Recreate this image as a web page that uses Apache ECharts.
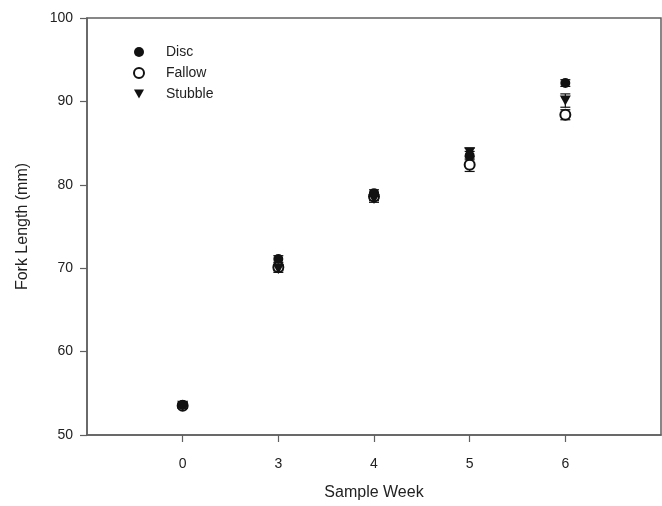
<!DOCTYPE html>
<html>
<head>
<meta charset="utf-8">
<script src="https://cdn.jsdelivr.net/npm/echarts@6/dist/echarts.min.js"></script>
<style>html,body{margin:0;padding:0;background:#fff}#c{width:662px;height:506px}</style>
</head>
<body>
<div id="c"></div>
<script>
const weekLabels = ['0', '3', '4', '5', '6'];
const positions = [1, 2, 3, 4, 5];
const discMean = [53.6, 71.1, 79.0, 83.5, 92.2];
const discErr = [0.3, 0.4, 0.4, 0.5, 0.4];
const fallowMean = [53.5, 70.1, 78.6, 82.4, 88.4];
const fallowErr = [0.3, 0.4, 0.5, 0.8, 0.6];
const stubbleMean = [53.5, 69.9, 78.3, 83.9, 90.1];
const stubbleErr = [0.3, 0.4, 0.4, 0.5, 0.8];
const yTicks = [50, 60, 70, 80, 90, 100];

const FONT = '"Liberation Sans", Arial, sans-serif';
const AX = '#606060';
const TRI = 'path://M0,0L10,0L5,9Z';

function pts(mean) { return positions.map((p, i) => [p, mean[i]]); }
function errData(mean, err) { return positions.map((p, i) => [p, mean[i] - err[i], mean[i] + err[i]]); }

function errorSeries(name, mean, err) {
  return {
    type: 'custom', name: name + ' SE', z: 1, silent: true,
    data: errData(mean, err),
    renderItem: function (params, api) {
      const x = api.value(0);
      const lo = api.coord([x, api.value(1)]);
      const hi = api.coord([x, api.value(2)]);
      const hw = 5;
      const st = { stroke: '#111', lineWidth: 1.2 };
      return {
        type: 'group',
        children: [
          { type: 'line', shape: { x1: lo[0], y1: lo[1], x2: hi[0], y2: hi[1] }, style: st },
          { type: 'line', shape: { x1: lo[0] - hw, y1: lo[1], x2: lo[0] + hw, y2: lo[1] }, style: st },
          { type: 'line', shape: { x1: hi[0] - hw, y1: hi[1], x2: hi[0] + hw, y2: hi[1] }, style: st }
        ]
      };
    }
  };
}

const chart = echarts.init(document.getElementById('c'));
chart.setOption({
  animation: false,
  backgroundColor: '#fff',
  textStyle: { fontFamily: FONT },
  grid: { left: 87, top: 18, right: 1, bottom: 71, show: true, borderColor: AX, borderWidth: 1.5, backgroundColor: 'transparent' },
  legend: {
    orient: 'vertical', left: 128, top: 40, itemGap: 7, itemWidth: 10, itemHeight: 10,
    textStyle: { fontFamily: FONT, fontSize: 14, color: '#222', padding: [0, 0, 0, 17] },
    data: ['Disc', 'Fallow', 'Stubble']
  },
  xAxis: {
    type: 'value', min: 0, max: 6, interval: 1,
    name: 'Sample Week', nameLocation: 'middle', nameGap: 50,
    nameTextStyle: { fontFamily: FONT, fontSize: 16, color: '#222' },
    axisLine: { show: true, lineStyle: { color: AX, width: 1.5 } },
    axisTick: { show: true, inside: false, length: 7, lineStyle: { color: AX, width: 1.2 }, customValues: positions },
    axisLabel: { fontFamily: FONT, fontSize: 14, color: '#222', margin: 22, customValues: positions,
      formatter: function (v) { const i = positions.indexOf(v); return i >= 0 ? weekLabels[i] : ''; } },
    splitLine: { show: false }
  },
  yAxis: {
    type: 'value', min: 50, max: 100, interval: 10,
    name: 'Fork Length (mm)', nameLocation: 'middle', nameGap: 56, nameRotate: 90,
    nameTextStyle: { fontFamily: FONT, fontSize: 16, color: '#222' },
    axisLine: { show: true, lineStyle: { color: AX, width: 1.5 } },
    axisTick: { show: true, inside: false, length: 7, lineStyle: { color: AX, width: 1.2 }, customValues: yTicks },
    axisLabel: { fontFamily: FONT, fontSize: 14, color: '#222', margin: 14, customValues: yTicks },
    splitLine: { show: false }
  },
  series: [
    errorSeries('Fallow', fallowMean, fallowErr),
    errorSeries('Stubble', stubbleMean, stubbleErr),
    errorSeries('Disc', discMean, discErr),
    { type: 'scatter', name: 'Disc', z: 5, symbol: 'circle', symbolSize: 10, data: pts(discMean),
      itemStyle: { color: '#111', opacity: 1 } },
    { type: 'scatter', name: 'Fallow', z: 3, symbol: 'emptyCircle', symbolSize: 10, data: pts(fallowMean),
      itemStyle: { color: '#111', borderColor: '#111', borderWidth: 1, opacity: 1 } },
    { type: 'scatter', name: 'Stubble', z: 4, symbol: TRI, symbolSize: [11, 10], data: pts(stubbleMean),
      itemStyle: { color: '#111', opacity: 1 } }
  ]
});
</script>
</body>
</html>
